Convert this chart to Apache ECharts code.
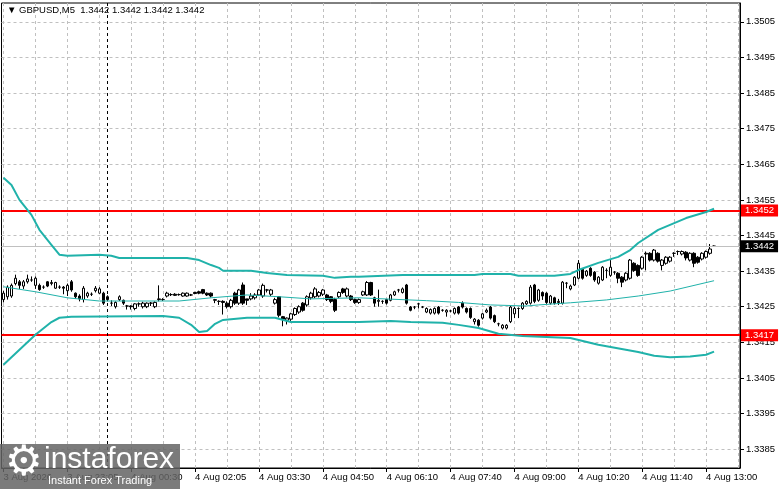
<!DOCTYPE html>
<html lang="en">
<head>
  <meta charset="UTF-8">
  <title>GBPUSD M5</title>
  <script src="https://cdn.jsdelivr.net/npm/echarts@6/dist/echarts.min.js"></script>
  <style>
    html, body { margin: 0; padding: 0; background: #fff; }
    #chart { width: 781px; height: 489px; }
  </style>
</head>
<body>
  <div id="chart"></div>
  <script>
    // bar count on the axis (last few slots stay empty, like the MT4 shift)
    var barSlots = 185;

    // x tick labels, one every 16 bars
    var xLabels = ['3 Aug 2026', '3 Aug 23:05', '4 Aug 00:30', '4 Aug 02:05', '4 Aug 03:30', '4 Aug 04:50',
      '4 Aug 06:10', '4 Aug 07:40', '4 Aug 09:00', '4 Aug 10:20', '4 Aug 11:40', '4 Aug 13:00'];
    var labelStep = 16;
    var gridStep = 8;

    // y tick labels
    var yTicks = [1.3385, 1.3395, 1.3405, 1.3415, 1.3425, 1.3435, 1.3445, 1.3455, 1.3465, 1.3475, 1.3485, 1.3495, 1.3505];

    // levels
    var resistance = 1.3452;
    var support = 1.3417;
    var bid = 1.3442;
    var daySeparator = 26;

    // candles: [open, close, low, high]
    var candles = [
      [1.34270, 1.34288, 1.34262, 1.34295], [1.34278, 1.34305, 1.34270, 1.34310], [1.34280, 1.34310, 1.34275, 1.34315],
      [1.34315, 1.34330, 1.34310, 1.34340], [1.34320, 1.34310, 1.34300, 1.34325], [1.34308, 1.34320, 1.34300, 1.34325],
      [1.34320, 1.34328, 1.34315, 1.34340], [1.34325, 1.34325, 1.34320, 1.34335], [1.34310, 1.34330, 1.34300, 1.34335],
      [1.34310, 1.34298, 1.34295, 1.34315], [1.34305, 1.34305, 1.34300, 1.34310], [1.34320, 1.34308, 1.34305, 1.34322],
      [1.34315, 1.34318, 1.34310, 1.34325], [1.34302, 1.34318, 1.34300, 1.34320], [1.34305, 1.34305, 1.34300, 1.34310],
      [1.34305, 1.34302, 1.34285, 1.34308], [1.34295, 1.34310, 1.34280, 1.34315], [1.34320, 1.34297, 1.34292, 1.34325],
      [1.34288, 1.34278, 1.34272, 1.34290], [1.34280, 1.34272, 1.34265, 1.34285], [1.34270, 1.34302, 1.34262, 1.34308],
      [1.34280, 1.34288, 1.34275, 1.34292], [1.34285, 1.34285, 1.34280, 1.34290], [1.34295, 1.34302, 1.34290, 1.34308],
      [1.34288, 1.34300, 1.34285, 1.34305], [1.34288, 1.34260, 1.34255, 1.34292], [1.34278, 1.34270, 1.34265, 1.34282],
      [1.34260, 1.34260, 1.34252, 1.34268], [1.34250, 1.34262, 1.34245, 1.34265], [1.34270, 1.34278, 1.34266, 1.34282],
      [1.34268, 1.34260, 1.34255, 1.34270], [1.34252, 1.34252, 1.34242, 1.34255], [1.34252, 1.34250, 1.34242, 1.34254],
      [1.34245, 1.34258, 1.34240, 1.34260], [1.34258, 1.34258, 1.34250, 1.34262], [1.34250, 1.34260, 1.34245, 1.34264],
      [1.34250, 1.34260, 1.34246, 1.34262], [1.34260, 1.34260, 1.34252, 1.34263], [1.34250, 1.34262, 1.34246, 1.34265],
      [1.34270, 1.34272, 1.34265, 1.34310], [1.34270, 1.34270, 1.34266, 1.34274], [1.34280, 1.34288, 1.34276, 1.34292],
      [1.34284, 1.34284, 1.34280, 1.34288], [1.34285, 1.34282, 1.34280, 1.34288], [1.34284, 1.34284, 1.34281, 1.34287],
      [1.34280, 1.34288, 1.34278, 1.34290], [1.34280, 1.34288, 1.34278, 1.34290], [1.34283, 1.34283, 1.34280, 1.34286],
      [1.34290, 1.34287, 1.34285, 1.34292], [1.34292, 1.34288, 1.34285, 1.34295], [1.34298, 1.34288, 1.34285, 1.34300],
      [1.34288, 1.34283, 1.34280, 1.34290], [1.34288, 1.34280, 1.34276, 1.34290], [1.34268, 1.34270, 1.34260, 1.34272],
      [1.34265, 1.34265, 1.34255, 1.34268], [1.34265, 1.34262, 1.34228, 1.34268], [1.34260, 1.34250, 1.34245, 1.34265],
      [1.34250, 1.34268, 1.34245, 1.34272], [1.34288, 1.34260, 1.34255, 1.34292], [1.34260, 1.34297, 1.34255, 1.34300],
      [1.34311, 1.34260, 1.34255, 1.34318], [1.34272, 1.34268, 1.34255, 1.34272], [1.34272, 1.34280, 1.34268, 1.34288],
      [1.34275, 1.34283, 1.34270, 1.34288], [1.34283, 1.34297, 1.34280, 1.34300], [1.34280, 1.34310, 1.34275, 1.34315],
      [1.34297, 1.34297, 1.34290, 1.34300], [1.34285, 1.34297, 1.34280, 1.34300], [1.34260, 1.34270, 1.34256, 1.34275],
      [1.34278, 1.34226, 1.34220, 1.34280], [1.34222, 1.34215, 1.34195, 1.34224], [1.34212, 1.34218, 1.34200, 1.34220],
      [1.34215, 1.34230, 1.34210, 1.34233], [1.34228, 1.34245, 1.34224, 1.34248], [1.34235, 1.34250, 1.34230, 1.34254],
      [1.34260, 1.34240, 1.34236, 1.34263], [1.34255, 1.34278, 1.34250, 1.34282], [1.34275, 1.34288, 1.34270, 1.34292],
      [1.34278, 1.34300, 1.34274, 1.34305], [1.34280, 1.34290, 1.34276, 1.34294], [1.34285, 1.34297, 1.34280, 1.34300],
      [1.34283, 1.34270, 1.34266, 1.34286], [1.34278, 1.34265, 1.34260, 1.34280], [1.34270, 1.34240, 1.34235, 1.34275],
      [1.34278, 1.34290, 1.34274, 1.34293], [1.34300, 1.34290, 1.34286, 1.34303], [1.34280, 1.34300, 1.34276, 1.34304],
      [1.34280, 1.34270, 1.34266, 1.34283], [1.34270, 1.34262, 1.34258, 1.34273], [1.34262, 1.34270, 1.34258, 1.34273],
      [1.34283, 1.34292, 1.34280, 1.34295], [1.34283, 1.34318, 1.34280, 1.34322], [1.34318, 1.34283, 1.34280, 1.34320],
      [1.34275, 1.34260, 1.34250, 1.34278], [1.34265, 1.34268, 1.34250, 1.34298], [1.34265, 1.34265, 1.34258, 1.34268],
      [1.34270, 1.34260, 1.34256, 1.34272], [1.34268, 1.34283, 1.34265, 1.34286], [1.34283, 1.34292, 1.34280, 1.34295],
      [1.34297, 1.34297, 1.34290, 1.34300], [1.34290, 1.34300, 1.34287, 1.34304], [1.34311, 1.34260, 1.34256, 1.34314],
      [1.34249, 1.34240, 1.34237, 1.34252], [1.34249, 1.34249, 1.34243, 1.34252], [1.34258, 1.34258, 1.34245, 1.34261],
      [1.34249, 1.34249, 1.34246, 1.34252], [1.34235, 1.34245, 1.34232, 1.34248], [1.34232, 1.34242, 1.34228, 1.34245],
      [1.34232, 1.34245, 1.34228, 1.34248], [1.34249, 1.34232, 1.34228, 1.34252], [1.34240, 1.34240, 1.34236, 1.34243],
      [1.34235, 1.34240, 1.34222, 1.34243], [1.34238, 1.34238, 1.34234, 1.34241], [1.34232, 1.34245, 1.34228, 1.34248],
      [1.34249, 1.34232, 1.34228, 1.34252], [1.34260, 1.34249, 1.34245, 1.34265], [1.34245, 1.34235, 1.34231, 1.34248],
      [1.34245, 1.34220, 1.34216, 1.34248], [1.34208, 1.34215, 1.34200, 1.34218], [1.34212, 1.34198, 1.34194, 1.34215],
      [1.34218, 1.34230, 1.34214, 1.34233], [1.34235, 1.34240, 1.34232, 1.34245], [1.34249, 1.34218, 1.34214, 1.34252],
      [1.34225, 1.34208, 1.34204, 1.34228], [1.34202, 1.34202, 1.34195, 1.34205], [1.34190, 1.34198, 1.34186, 1.34201],
      [1.34190, 1.34198, 1.34186, 1.34201], [1.34208, 1.34249, 1.34204, 1.34252], [1.34230, 1.34245, 1.34218, 1.34250],
      [1.34245, 1.34245, 1.34218, 1.34248], [1.34245, 1.34260, 1.34241, 1.34263], [1.34258, 1.34265, 1.34255, 1.34268],
      [1.34260, 1.34305, 1.34256, 1.34311], [1.34311, 1.34265, 1.34260, 1.34314], [1.34268, 1.34297, 1.34264, 1.34300],
      [1.34290, 1.34280, 1.34269, 1.34293], [1.34288, 1.34262, 1.34258, 1.34291], [1.34260, 1.34280, 1.34256, 1.34283],
      [1.34275, 1.34260, 1.34256, 1.34278], [1.34262, 1.34265, 1.34255, 1.34272], [1.34260, 1.34319, 1.34256, 1.34322],
      [1.34316, 1.34316, 1.34302, 1.34319], [1.34300, 1.34308, 1.34296, 1.34312], [1.34311, 1.34333, 1.34308, 1.34336],
      [1.34330, 1.34372, 1.34327, 1.34381], [1.34355, 1.34330, 1.34326, 1.34358], [1.34338, 1.34350, 1.34334, 1.34353],
      [1.34358, 1.34338, 1.34334, 1.34361], [1.34347, 1.34325, 1.34320, 1.34350], [1.34316, 1.34333, 1.34312, 1.34336],
      [1.34325, 1.34361, 1.34322, 1.34364], [1.34352, 1.34352, 1.34330, 1.34358], [1.34338, 1.34361, 1.34334, 1.34381],
      [1.34347, 1.34347, 1.34340, 1.34350], [1.34344, 1.34330, 1.34316, 1.34347], [1.34333, 1.34319, 1.34305, 1.34336],
      [1.34325, 1.34344, 1.34321, 1.34347], [1.34330, 1.34381, 1.34326, 1.34384], [1.34372, 1.34352, 1.34348, 1.34375],
      [1.34366, 1.34338, 1.34334, 1.34369], [1.34358, 1.34389, 1.34354, 1.34392], [1.34398, 1.34400, 1.34352, 1.34405],
      [1.34400, 1.34381, 1.34377, 1.34403], [1.34381, 1.34409, 1.34377, 1.34412], [1.34400, 1.34378, 1.34374, 1.34403],
      [1.34366, 1.34381, 1.34352, 1.34384], [1.34372, 1.34389, 1.34368, 1.34392], [1.34378, 1.34389, 1.34374, 1.34392],
      [1.34400, 1.34400, 1.34390, 1.34403], [1.34405, 1.34405, 1.34395, 1.34408], [1.34398, 1.34405, 1.34394, 1.34408],
      [1.34403, 1.34387, 1.34380, 1.34406], [1.34381, 1.34400, 1.34377, 1.34403], [1.34400, 1.34372, 1.34361, 1.34403],
      [1.34389, 1.34375, 1.34371, 1.34392], [1.34384, 1.34400, 1.34380, 1.34403], [1.34389, 1.34405, 1.34385, 1.34408],
      [1.34400, 1.34412, 1.34396, 1.34426], [1.34420, 1.34420, 1.34418, 1.34422]
    ];

    // band lines, read at sample bars: [bar, price]
    var upperBand = [
      [0, 1.34612], [2, 1.34592], [4, 1.34550], [7, 1.34508], [9, 1.34466], [12, 1.34424], [14, 1.34396],
      [16, 1.34393], [24, 1.34396], [27, 1.34393], [29, 1.34387], [46, 1.34387], [49, 1.34381], [52, 1.34367],
      [54, 1.34359], [55, 1.34351], [62, 1.34351], [66, 1.34345], [71, 1.34339], [80, 1.34337], [83, 1.34331],
      [87, 1.34334], [89, 1.34334], [100, 1.34339], [118, 1.34339], [120, 1.34342], [127, 1.34342], [129, 1.34337],
      [138, 1.34337], [142, 1.34342], [144, 1.34353], [149, 1.34373], [154, 1.34390], [157, 1.34409],
      [159, 1.34429], [164, 1.34466], [171, 1.34499], [176, 1.34516], [178, 1.34525]
    ];
    var middleBand = [
      [0, 1.34306], [8, 1.34292], [16, 1.34275], [24, 1.34266], [44, 1.34266], [52, 1.34275], [61, 1.34283],
      [69, 1.34278], [77, 1.34272], [89, 1.34275], [106, 1.34267], [114, 1.34262], [122, 1.34255], [131, 1.34252],
      [134, 1.34255], [142, 1.34261], [151, 1.34269], [159, 1.34280], [167, 1.34294], [178, 1.34323]
    ];
    var lowerBand = [
      [0, 1.34087], [4, 1.34129], [8, 1.34171], [12, 1.34207], [14, 1.34219], [17, 1.34222], [40, 1.34224],
      [44, 1.34219], [47, 1.34199], [49, 1.34179], [51, 1.34182], [53, 1.34202], [55, 1.34213], [61, 1.34219],
      [68, 1.34219], [72, 1.34207], [89, 1.34207], [97, 1.34210], [102, 1.34207], [110, 1.34205], [114, 1.34199],
      [119, 1.34190], [124, 1.34174], [130, 1.34168], [142, 1.34162], [149, 1.34143], [159, 1.34123],
      [163, 1.34112], [167, 1.34108], [172, 1.34110], [176, 1.34115], [178, 1.34124]
    ];

    var FONT = 'Liberation Sans';
    var TEAL = '#20b2aa';
    var GRID = '#c0c0c0';

    var cats = [];
    for (var i = 0; i < barSlots; i++) {
      cats.push(String(i));
    }

    function isLabel(idx) { return idx % labelStep === 0; }
    function isGrid(idx) { return idx % gridStep === 0; }

    var oChart = echarts.init(document.getElementById('chart'));

    var option = {
      animation: false,
      backgroundColor: '#fff',
      title: {
        text: '\u25BC GBPUSD,M5  1.3442 1.3442 1.3442 1.3442',
        left: 7,
        top: 5,
        padding: 0,
        textStyle: { fontFamily: FONT, fontSize: 9.5, fontWeight: 'normal', color: '#000' }
      },
      grid: {
        left: 1.5, right: 41, top: 3, bottom: 21,
        show: true, borderColor: '#000', borderWidth: 1
      },
      xAxis: {
        type: 'category',
        data: cats,
        boundaryGap: true,
        axisLine: { lineStyle: { color: '#000', width: 1 } },
        axisTick: { show: true, interval: isLabel, alignWithLabel: true, length: 4, lineStyle: { color: '#000' } },
        axisLabel: {
          interval: isLabel,
          align: 'left',
          margin: 4,
          fontFamily: FONT,
          fontSize: 9.5,
          color: '#000',
          formatter: function (val, idx) { return xLabels[idx / labelStep] || ''; }
        },
        splitLine: { show: true, interval: isGrid, alignWithLabel: true, lineStyle: { color: GRID, type: [3, 3], width: 1 } }
      },
      yAxis: {
        type: 'value',
        position: 'right',
        min: 1.33797,
        max: 1.35103,
        axisLine: { show: true, lineStyle: { color: '#000', width: 1 } },
        axisTick: { show: true, customValues: yTicks, length: 4, lineStyle: { color: '#000' } },
        axisLabel: {
          customValues: yTicks,
          margin: 6,
          fontFamily: FONT,
          fontSize: 9.5,
          color: '#000',
          formatter: function (v) { return v.toFixed(4); }
        },
        splitLine: { show: true, lineStyle: { color: GRID, type: [3, 3], width: 1 } }
      },
      series: [
        {
          name: 'GBPUSD',
          type: 'candlestick',
          data: candles,
          barWidth: 3,
          z: 4,
          itemStyle: { color: '#fff', color0: '#000', borderColor: '#000', borderColor0: '#000', borderWidth: 1 }
        },
        {
          name: 'upper', type: 'line', data: upperBand, showSymbol: false, symbol: 'none',
          lineStyle: { color: TEAL, width: 2 }, z: 5
        },
        {
          name: 'middle', type: 'line', data: middleBand, showSymbol: false, symbol: 'none',
          lineStyle: { color: TEAL, width: 1 }, z: 5,
          markLine: {
            symbol: 'none',
            silent: true,
            animation: false,
            precision: 5,
            label: {
              show: true, position: 'end', distance: 1, color: '#fff',
              fontFamily: FONT, fontSize: 9.5, padding: [1, 4, 1, 4]
            },
            data: [
              { yAxis: bid, lineStyle: { color: GRID, width: 1, type: 'solid' },
                label: { formatter: bid.toFixed(4), backgroundColor: '#000' } },
              { yAxis: resistance, lineStyle: { color: '#ff0000', width: 2, type: 'solid' },
                label: { formatter: resistance.toFixed(4), backgroundColor: '#ff0000' } },
              { yAxis: support, lineStyle: { color: '#ff0000', width: 2, type: 'solid' },
                label: { formatter: support.toFixed(4), backgroundColor: '#ff0000' } },
              { xAxis: daySeparator, lineStyle: { color: '#000', width: 1, type: [3, 3] }, label: { show: false } }
            ]
          }
        },
        {
          name: 'lower', type: 'line', data: lowerBand, showSymbol: false, symbol: 'none',
          lineStyle: { color: TEAL, width: 2 }, z: 5
        }
      ],
      graphic: [
        { type: 'rect', left: 0, top: 444, z: 100, shape: { width: 180, height: 45 }, style: { fill: 'rgba(100,100,100,0.85)' } },
        { type: 'text', left: 5, top: 443, z: 101, style: { text: '\u2699', font: '42px "DejaVu Sans"', fill: '#fff' } },
        { type: 'text', left: 44, top: 445, z: 101, style: { text: 'instaforex', font: '30px "Liberation Sans"', fill: '#fff' } },
        { type: 'text', left: 48, top: 475, z: 101, style: { text: 'Instant Forex Trading', font: '11px "Liberation Sans"', fill: '#fff' } }
      ]
    };

    oChart.setOption(option);
  </script>
</body>
</html>
